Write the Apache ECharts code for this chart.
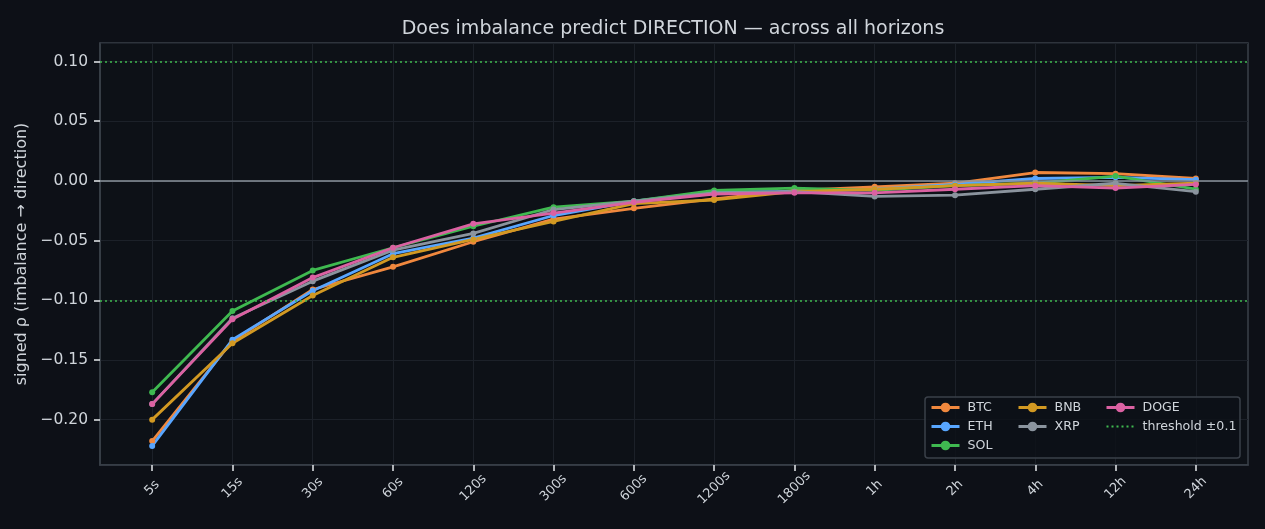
<!DOCTYPE html>
<html>
<head>
<meta charset="utf-8">
<script src="https://cdn.jsdelivr.net/npm/echarts@6/dist/echarts.min.js"></script>
<style>
  html, body { margin: 0; padding: 0; background: #0d1017; }
  #chart { width: 1265px; height: 529px; }
</style>
</head>
<body>
<div id="chart"></div>
<script>
// horizons on the x axis
const horizons = ['5s', '15s', '30s', '60s', '120s', '300s', '600s', '1200s', '1800s', '1h', '2h', '4h', '12h', '24h']

// signed rho per coin, one value per horizon
const btc  = [-0.218, -0.134, -0.091, -0.072, -0.051, -0.032, -0.023, -0.015, -0.008, -0.005, -0.002, 0.007, 0.006, 0.002]
const eth  = [-0.222, -0.133, -0.092, -0.061, -0.048, -0.029, -0.017, -0.009, -0.009, -0.007, -0.003, 0.002, 0.003, 0.001]
const sol  = [-0.177, -0.109, -0.075, -0.056, -0.038, -0.022, -0.017, -0.008, -0.006, -0.008, -0.004, -0.002, 0.004, -0.007]
const bnb  = [-0.200, -0.136, -0.096, -0.064, -0.049, -0.034, -0.019, -0.016, -0.009, -0.007, -0.004, -0.002, -0.004, -0.002]
const xrp  = [-0.187, -0.115, -0.084, -0.058, -0.044, -0.024, -0.017, -0.010, -0.009, -0.013, -0.012, -0.007, -0.002, -0.009]
const doge = [-0.187, -0.116, -0.081, -0.056, -0.036, -0.027, -0.018, -0.011, -0.010, -0.010, -0.007, -0.004, -0.006, -0.003]

const yTicks = [-0.20, -0.15, -0.10, -0.05, 0.00, 0.05, 0.10]
const threshold = 0.1
const thresholdName = 'threshold \u00b10.1'

const coins = [
  { name: 'BTC',  values: btc,  color: '#f0883e' },
  { name: 'ETH',  values: eth,  color: '#58a6ff' },
  { name: 'SOL',  values: sol,  color: '#3fb950' },
  { name: 'BNB',  values: bnb,  color: '#d29922' },
  { name: 'XRP',  values: xrp,  color: '#8b949e' },
  { name: 'DOGE', values: doge, color: '#db61a2' }
]

const textColor = '#d0d5db'
const frameColor = '#3a4049'
const font = 'DejaVu Sans'

function fmt(v) {
  const s = Math.abs(v).toFixed(2)
  return (v < -1e-9 ? '\u2212' : '') + s
}

let series = coins.map(c => ({
  name: c.name,
  type: 'line',
  data: c.values.map((v, i) => [i, v]),
  color: c.color,
  symbol: 'circle',
  symbolSize: 6,
  lineStyle: { width: 2.8 },
  z: 3
}))

series.push({
  name: thresholdName,
  type: 'line',
  data: [],
  color: '#3fb950',
  symbol: 'none',
  lineStyle: { type: [2, 3], width: 1.5 },
  markLine: {
    silent: true,
    symbol: 'none',
    label: { show: false },
    data: [
      { yAxis: threshold, lineStyle: { color: '#3fb950', type: [2, 3], width: 1.5 } },
      { yAxis: -threshold, lineStyle: { color: '#3fb950', type: [2, 3], width: 1.5 } },
      { yAxis: 0, lineStyle: { color: '#8b949e', type: 'solid', width: 1.5 } }
    ]
  },
  z: 2
})

// matplotlib style legend: 3 columns filled top to bottom
function legendCol(left, names) {
  return {
    orient: 'vertical',
    left: left,
    top: 400,
    padding: 0,
    itemWidth: 28,
    itemHeight: 12,
    itemGap: 4,
    z: 12,
    textStyle: { color: textColor, fontSize: 12.6, fontFamily: font, lineHeight: 15, padding: [0, 0, 0, 3] },
    data: names.map(n => n === thresholdName
      ? { name: n, itemStyle: { opacity: 0 }, lineStyle: { width: 1.8 } }
      : { name: n, lineStyle: { width: 3 } })
  }
}

const chart = echarts.init(document.getElementById('chart'))
chart.setOption({
  backgroundColor: '#0d1017',
  animation: false,
  textStyle: { fontFamily: font },
  title: {
    text: 'Does imbalance predict DIRECTION \u2014 across all horizons',
    left: 668,
    top: 15,
    textAlign: 'center',
    textStyle: { color: textColor, fontSize: 19, fontWeight: 'normal', fontFamily: font }
  },
  grid: {
    left: 100, right: 17, top: 43, bottom: 64,
    show: true,
    backgroundColor: '#0d1117',
    borderColor: frameColor,
    borderWidth: 1.5
  },
  graphic: [{
    type: 'rect',
    z: 11,
    shape: { x: 925, y: 397, width: 315, height: 61, r: 3 },
    style: { fill: 'rgba(13,17,23,0.85)', stroke: frameColor, lineWidth: 1.5 }
  }],
  legend: [
    legendCol(930, ['BTC', 'ETH', 'SOL']),
    legendCol(1017, ['BNB', 'XRP']),
    legendCol(1105, ['DOGE', thresholdName])
  ],
  xAxis: {
    type: 'value',
    position: 'bottom',
    min: -0.65,
    max: 13.65,
    axisLine: { show: true, onZero: false, lineStyle: { color: frameColor, width: 1.5 } },
    axisTick: { show: true, customValues: horizons.map((h, i) => i), length: 6, lineStyle: { color: '#e6e9ed', width: 1.5 } },
    axisLabel: {
      customValues: horizons.map((h, i) => i),
      rotate: 45,
      align: 'center',
      verticalAlign: 'middle',
      margin: 23,
      color: textColor,
      fontSize: 13,
      fontFamily: font,
      formatter: v => horizons[Math.round(v)]
    },
    splitLine: { show: true, lineStyle: { color: '#1c2129', width: 1 } }
  },
  yAxis: {
    type: 'value',
    position: 'left',
    min: -0.238,
    max: 0.1155,
    splitNumber: 7,
    name: 'signed \u03c1 (imbalance \u2192 direction)',
    nameLocation: 'middle',
    nameGap: 65,
    nameTextStyle: { color: textColor, fontSize: 16, fontFamily: font },
    axisLine: { show: true, onZero: false, lineStyle: { color: frameColor, width: 1.5 } },
    axisTick: { show: true, length: 6, lineStyle: { color: '#e6e9ed', width: 1.5 } },
    axisLabel: {
      showMinLabel: false,
      showMaxLabel: false,
      color: textColor,
      fontSize: 15.5,
      margin: 12,
      fontFamily: font,
      formatter: v => fmt(v)
    },
    splitLine: { show: true, lineStyle: { color: '#1c2129', width: 1 } }
  },
  series: series
})
</script>
</body>
</html>
